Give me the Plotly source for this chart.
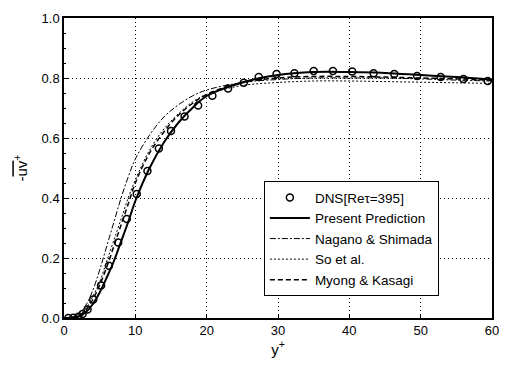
import plotly.graph_objects as go

# DNS data, Re_tau = 395
dns_y = [0.6, 1.3, 2.0, 2.6, 3.3, 4.1, 5.2, 6.3, 7.6, 8.8, 10.2, 11.7, 13.3, 15.0,
         16.9, 18.8, 20.8, 23.0, 25.2, 27.3, 29.8, 32.3, 35.0, 37.7, 40.4, 43.4,
         46.3, 49.5, 52.8, 56.0, 59.4]
dns_uv = [0.0, 0.001, 0.004, 0.013, 0.028, 0.062, 0.108, 0.174, 0.252, 0.33, 0.413,
          0.49, 0.565, 0.623, 0.672, 0.708, 0.741, 0.765, 0.784, 0.803, 0.813, 0.816,
          0.823, 0.823, 0.822, 0.816, 0.813, 0.807, 0.803, 0.797, 0.79]

# model predictions
yp = [0, 1, 2, 3, 4, 5, 6, 7, 8, 9, 10, 12, 14, 16, 18, 20, 25, 30, 35, 40, 45, 50, 55, 60]
present = [0, 0.0005, 0.004, 0.018, 0.045, 0.085, 0.135, 0.19, 0.255, 0.32, 0.39, 0.50,
           0.585, 0.65, 0.70, 0.74, 0.785, 0.81, 0.82, 0.82, 0.817, 0.81, 0.803, 0.795]
nagano = [0, 0.002, 0.012, 0.04, 0.09, 0.16, 0.24, 0.32, 0.40, 0.47, 0.53, 0.61, 0.67,
          0.71, 0.74, 0.76, 0.785, 0.795, 0.80, 0.80, 0.80, 0.797, 0.793, 0.79]
so = [0, 0.001, 0.008, 0.03, 0.07, 0.12, 0.19, 0.26, 0.33, 0.40, 0.46, 0.56, 0.63, 0.68,
      0.72, 0.745, 0.775, 0.785, 0.79, 0.79, 0.788, 0.786, 0.784, 0.782]
myong = [0, 0.001, 0.007, 0.025, 0.06, 0.11, 0.17, 0.24, 0.31, 0.38, 0.45, 0.55, 0.62,
         0.675, 0.715, 0.745, 0.785, 0.80, 0.805, 0.805, 0.803, 0.80, 0.797, 0.793]

x_ticks = [0, 10, 20, 30, 40, 50, 60]
y_ticks = [0.0, 0.2, 0.4, 0.6, 0.8, 1.0]

fig = go.Figure()
fig.add_trace(go.Scatter(x=dns_y, y=dns_uv, mode="markers", name="DNS[Re\u03c4=395]",
                         marker=dict(symbol="circle-open", size=7, color="black",
                                     line=dict(width=1.5, color="black"))))
fig.add_trace(go.Scatter(x=yp, y=present, mode="lines", name="Present Prediction",
                         line=dict(color="black", width=2, shape="spline")))
fig.add_trace(go.Scatter(x=yp, y=nagano, mode="lines", name="Nagano & Shimada",
                         line=dict(color="black", width=1, dash="6px,2px,2px,2px", shape="spline")))
fig.add_trace(go.Scatter(x=yp, y=so, mode="lines", name="So et al.",
                         line=dict(color="black", width=1, dash="2px,2px", shape="spline")))
fig.add_trace(go.Scatter(x=yp, y=myong, mode="lines", name="Myong & Kasagi",
                         line=dict(color="black", width=1.5, dash="5px,3px", shape="spline")))

axis_common = dict(showline=True, linecolor="black", linewidth=1.5, mirror=True,
                   ticks="inside", ticklen=4, tickcolor="black",
                   showgrid=True, gridcolor="black", gridwidth=1, griddash="1px,3px",
                   zeroline=False, tickfont=dict(size=13, color="black"))

fig.update_layout(
    width=510, height=368,
    margin=dict(l=64, r=11, t=13, b=50),
    paper_bgcolor="white", plot_bgcolor="white",
    font=dict(family="Liberation Sans, Arial, sans-serif", color="black", size=13),
    xaxis=dict(range=[0, 60], tickvals=x_ticks, ticktext=[str(v) for v in x_ticks],
               title=dict(text="y<sup>+</sup>", font=dict(size=15), standoff=6),
               **axis_common),
    yaxis=dict(range=[0, 1.0], tickvals=y_ticks, ticktext=[f"{v:.1f}" for v in y_ticks],
               title=dict(text="-<span style='text-decoration:overline'>uv</span><sup>+</sup>",
                          font=dict(size=15), standoff=10),
               minor=dict(ticks="inside", ticklen=2, tickcolor="black", dtick=0.05, showgrid=False),
               **axis_common),
    legend=dict(x=0.467, y=0.456, xanchor="left", yanchor="top",
                bordercolor="black", borderwidth=1, bgcolor="white",
                font=dict(size=13.5), tracegroupgap=0, itemwidth=40),
    showlegend=True,
)

fig.write_html("out.html")
